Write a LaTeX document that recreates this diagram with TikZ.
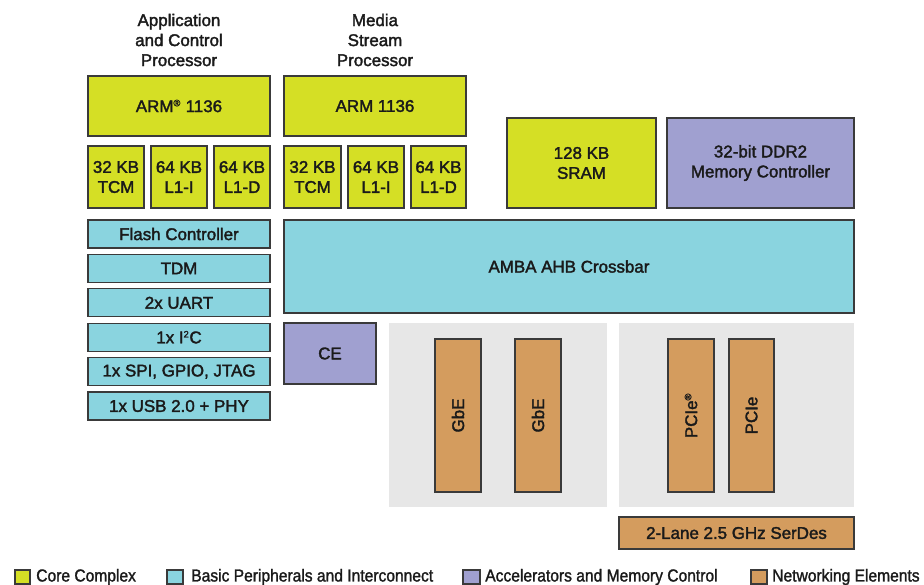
\documentclass[tikz,border=0pt]{standalone}
\usepackage{fontspec}
\setmainfont{Liberation Sans}
\newfontfamily\blockfont{Liberation Sans}[FakeBold=2]
\newfontfamily\legendfont{Liberation Sans}[FakeStretch=0.9,FakeBold=1.5]

\definecolor{corefill}{HTML}{D5DF25}
\definecolor{perifill}{HTML}{8AD4DF}
\definecolor{accfill}{HTML}{A0A0D0}
\definecolor{netfill}{HTML}{D49C5E}
\definecolor{bgfill}{HTML}{E7E7E7}
\definecolor{edge}{HTML}{3A3A3A}
\definecolor{ink}{HTML}{1A1A1A}

\newcommand{\regmark}{\textsuperscript{\fontsize{7}{7}\selectfont\textregistered}}

\tikzset{
  blk/.style={draw=edge, line width=0.8pt},
  core/.style={blk, fill=corefill},
  peri/.style={blk, fill=perifill},
  acc/.style={blk, fill=accfill},
  net/.style={blk, fill=netfill},
  lbl/.style={text=ink, align=center, inner sep=0pt,
    font=\blockfont\fontsize{12.7}{15}\selectfont},
  key/.style={text=ink, anchor=west, inner sep=0pt,
    font=\legendfont\fontsize{13}{14}\selectfont}
}

\begin{document}
\begin{tikzpicture}[x=0.75pt, y=-0.75pt]
  \useasboundingbox (0, 0) rectangle (924, 585);

  % processor titles
  \node[lbl] (titleA) at (179, 40) {Application\\and Control\\Processor};
  \node[lbl] (titleB) at (375, 40) {Media\\Stream\\Processor};

  % application and control processor
  \draw[core] (88, 76) rectangle node[lbl] (armA) {ARM\regmark{} 1136} (270, 136);
  \draw[core] (88, 146) rectangle node[lbl] (tcmA) {32 KB\\TCM} (144, 208);
  \draw[core] (151, 146) rectangle node[lbl] (liA) {64 KB\\L1-I} (207, 208);
  \draw[core] (214, 146) rectangle node[lbl] (ldA) {64 KB\\L1-D} (270, 208);

  % media stream processor
  \draw[core] (284, 76) rectangle node[lbl] (armB) {ARM 1136} (466, 136);
  \draw[core] (284, 146) rectangle node[lbl] (tcmB) {32 KB\\TCM} (341, 208);
  \draw[core] (348, 146) rectangle node[lbl] (liB) {64 KB\\L1-I} (404, 208);
  \draw[core] (411, 146) rectangle node[lbl] (ldB) {64 KB\\L1-D} (466, 208);

  % memory
  \draw[core] (507, 118) rectangle node[lbl] (sram) {128 KB\\SRAM} (656, 208);
  \draw[acc] (667, 118) rectangle node[lbl] (ddr) {32-bit DDR2\\Memory Controller} (854, 208);

  % peripherals
  \draw[peri] (88, 220) rectangle node[lbl] (flash) {Flash Controller} (270, 248);
  \draw[peri] (88, 254.4) rectangle node[lbl] (tdm) {TDM} (270, 282.4);
  \draw[peri] (88, 288.8) rectangle node[lbl] (uart) {2x UART} (270, 316.8);
  \draw[peri] (88, 323.2) rectangle node[lbl] (iic) {1x I\textsuperscript{\fontsize{7}{7}\selectfont 2}C} (270, 351.2);
  \draw[peri] (88, 357.6) rectangle node[lbl] (spi) {1x SPI, GPIO, JTAG} (270, 385.6);
  \draw[peri] (88, 392) rectangle node[lbl] (usb) {1x USB 2.0 + PHY} (270, 420);

  \draw[peri] (284, 220) rectangle node[lbl] (ahb) {AMBA AHB Crossbar} (854, 313);
  \draw[acc] (284, 323) rectangle node[lbl] (ce) {CE} (376, 384);

  % networking
  \fill[bgfill] (389, 323) rectangle (607, 507);
  \fill[bgfill] (619, 323) rectangle (854, 507);
  \draw[net] (435, 339) rectangle node[lbl, rotate=90] (gbeA) {GbE} (481, 492);
  \draw[net] (515, 339) rectangle node[lbl, rotate=90] (gbeB) {GbE} (561, 492);
  \draw[net] (668, 339) rectangle node[lbl, rotate=90] (pcieA) {PCIe\regmark} (714, 492);
  \draw[net] (729, 339) rectangle node[lbl, rotate=90] (pcieB) {PCIe} (774, 492);
  \draw[net] (619, 517) rectangle node[lbl] (serdes) {2-Lane 2.5 GHz SerDes} (854, 549);

  % legend
  \draw[core] (15, 570) rectangle (30, 584);
  \node[key] (keyA) at (36, 577) {Core Complex};
  \draw[peri] (167, 570) rectangle (183, 584);
  \node[key] (keyB) at (191, 577) {Basic Peripherals and Interconnect};
  \draw[acc] (463, 570) rectangle (480, 584);
  \node[key] (keyC) at (485, 577) {Accelerators and Memory Control};
  \draw[net] (751, 570) rectangle (767, 584);
  \node[key] (keyD) at (772, 577) {Networking Elements};
\end{tikzpicture}
\end{document}
